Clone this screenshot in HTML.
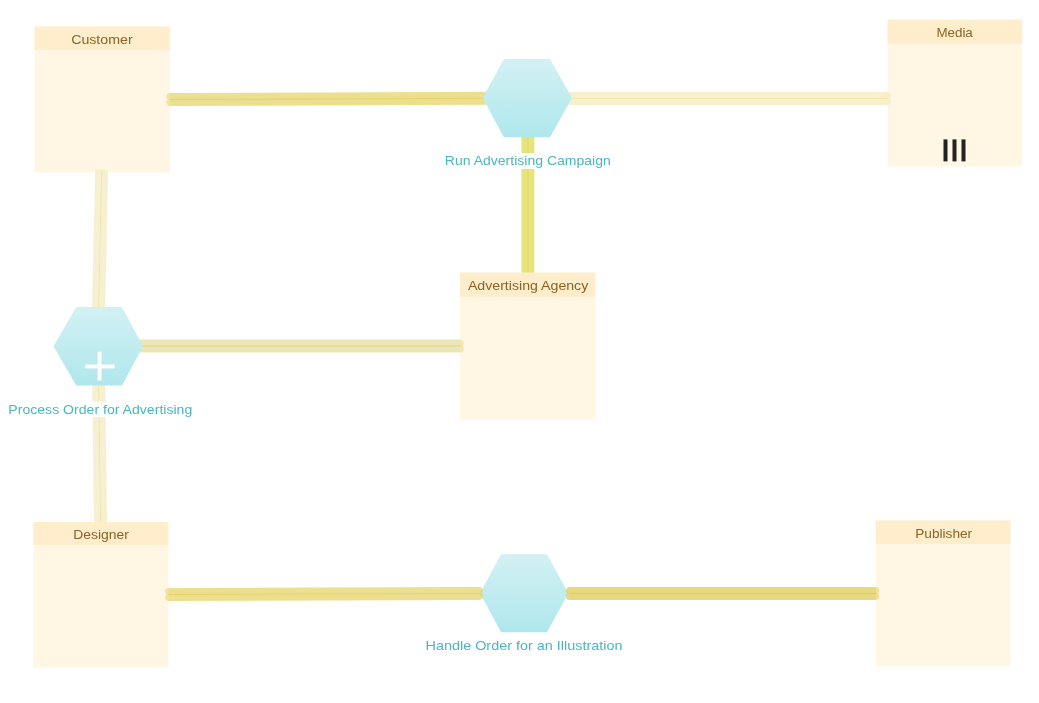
<!DOCTYPE html>
<html><head><meta charset="utf-8"><style>
html,body{margin:0;padding:0;background:#fff;width:1039px;height:703px;overflow:hidden}
svg{display:block;will-change:transform}
</style></head><body>
<svg width="1039" height="703" viewBox="0 0 1039 703">
<defs><linearGradient id="hg" x1="0" y1="0" x2="0" y2="1"><stop offset="0" stop-color="#d3f1f4"/><stop offset="1" stop-color="#afe7ec"/></linearGradient></defs>
<rect width="1039" height="703" fill="#fff"/>
<line x1="169.79" y1="96.45" x2="489.99" y2="95.30" stroke="rgb(226,206,86)" stroke-opacity="0.66" stroke-width="7" stroke-linecap="round"/><line x1="169.81" y1="102.45" x2="490.01" y2="101.30" stroke="rgb(226,206,86)" stroke-opacity="0.66" stroke-width="7" stroke-linecap="round"/><line x1="565.00" y1="95.40" x2="887.30" y2="95.40" stroke="rgb(228,205,88)" stroke-opacity="0.3" stroke-width="7" stroke-linecap="round"/><line x1="565.00" y1="101.40" x2="887.30" y2="101.40" stroke="rgb(228,205,88)" stroke-opacity="0.3" stroke-width="7" stroke-linecap="round"/><line x1="530.90" y1="130.00" x2="530.90" y2="276.00" stroke="rgb(223,218,82)" stroke-opacity="0.75" stroke-width="7" stroke-linecap="round"/><line x1="524.90" y1="130.00" x2="524.90" y2="276.00" stroke="rgb(223,218,82)" stroke-opacity="0.75" stroke-width="7" stroke-linecap="round"/><line x1="104.60" y1="172.67" x2="101.50" y2="312.07" stroke="rgb(227,208,108)" stroke-opacity="0.32" stroke-width="7" stroke-linecap="round"/><line x1="98.60" y1="172.53" x2="95.50" y2="311.93" stroke="rgb(227,208,108)" stroke-opacity="0.32" stroke-width="7" stroke-linecap="round"/><line x1="137.00" y1="343.00" x2="460.30" y2="343.00" stroke="rgb(212,198,85)" stroke-opacity="0.44" stroke-width="7" stroke-linecap="round"/><line x1="137.00" y1="349.00" x2="460.30" y2="349.00" stroke="rgb(212,198,85)" stroke-opacity="0.44" stroke-width="7" stroke-linecap="round"/><line x1="101.60" y1="379.96" x2="103.60" y2="525.96" stroke="rgb(227,208,108)" stroke-opacity="0.32" stroke-width="7" stroke-linecap="round"/><line x1="95.60" y1="380.04" x2="97.60" y2="526.04" stroke="rgb(227,208,108)" stroke-opacity="0.32" stroke-width="7" stroke-linecap="round"/>
<polygon points="482.7,98.1 503.9,59 550,59 572.1,98.1 550,137.2 503.9,137.2" fill="url(#hg)"/><polygon points="53.5,346.2 76.3,306.9 122,306.9 143,346.2 122,385.5 76.3,385.5" fill="url(#hg)"/><polygon points="480.0,593.25 501.1,554.3 547.0,554.3 568.3,593.25 547.0,632.2 501.1,632.2" fill="url(#hg)"/><rect x="97.6" y="351.7" width="3.9" height="28.8" fill="#fff"/><rect x="85.3" y="364.5" width="29.3" height="3.9" fill="#fff"/>
<line x1="168.59" y1="591.50" x2="479.29" y2="590.50" stroke="rgb(226,206,86)" stroke-opacity="0.66" stroke-width="7" stroke-linecap="round"/><line x1="168.61" y1="597.50" x2="479.31" y2="596.50" stroke="rgb(226,206,86)" stroke-opacity="0.66" stroke-width="7" stroke-linecap="round"/><line x1="569.60" y1="590.40" x2="875.50" y2="590.50" stroke="rgb(223,201,76)" stroke-opacity="0.72" stroke-width="7" stroke-linecap="round"/><line x1="569.60" y1="596.40" x2="875.50" y2="596.50" stroke="rgb(223,201,76)" stroke-opacity="0.72" stroke-width="7" stroke-linecap="round"/><rect x="34.5" y="50" width="135.5" height="122.6" fill="rgb(254,232,183)" fill-opacity="0.37"/><rect x="34.5" y="26.5" width="135.5" height="23.5" fill="#ffedcb"/><text x="101.9" y="44.1" text-anchor="middle" textLength="61.5" lengthAdjust="spacingAndGlyphs" fill="#8b6326" font-size="13.2" font-family='"Liberation Sans", sans-serif'>Customer</text><rect x="887.4" y="44" width="134.89999999999998" height="122.5" fill="rgb(254,232,183)" fill-opacity="0.37"/><rect x="887.4" y="19.5" width="134.89999999999998" height="24.5" fill="#ffedcb"/><text x="954.6" y="36.7" text-anchor="middle" textLength="36.4" lengthAdjust="spacingAndGlyphs" fill="#8b6326" font-size="13.2" font-family='"Liberation Sans", sans-serif'>Media</text><rect x="460" y="297" width="135.5" height="122.69999999999999" fill="rgb(254,232,183)" fill-opacity="0.37"/><rect x="460" y="272.5" width="135.5" height="24.5" fill="#ffedcb"/><text x="528.1" y="289.9" text-anchor="middle" textLength="120.4" lengthAdjust="spacingAndGlyphs" fill="#8b6326" font-size="13.2" font-family='"Liberation Sans", sans-serif'>Advertising Agency</text><rect x="33.3" y="545" width="135.2" height="122.20000000000005" fill="rgb(254,232,183)" fill-opacity="0.37"/><rect x="33.3" y="522" width="135.2" height="23" fill="#ffedcb"/><text x="101.0" y="538.9" text-anchor="middle" textLength="55.5" lengthAdjust="spacingAndGlyphs" fill="#8b6326" font-size="13.2" font-family='"Liberation Sans", sans-serif'>Designer</text><rect x="875.7" y="544.1" width="134.69999999999993" height="122.19999999999993" fill="rgb(254,232,183)" fill-opacity="0.37"/><rect x="875.7" y="520.4" width="134.69999999999993" height="23.700000000000045" fill="#ffedcb"/><text x="943.7" y="537.9" text-anchor="middle" textLength="56.9" lengthAdjust="spacingAndGlyphs" fill="#8b6326" font-size="13.2" font-family='"Liberation Sans", sans-serif'>Publisher</text><rect x="943.5" y="139.4" width="4" height="22" fill="#222"/><rect x="952.5" y="139.4" width="4" height="22" fill="#222"/><rect x="961.5" y="139.4" width="4" height="22" fill="#222"/>
<rect x="440" y="153" width="176" height="16" fill="#fff"/><text x="527.8" y="164.9" text-anchor="middle" textLength="166" lengthAdjust="spacingAndGlyphs" fill="#4ab7c1" font-size="13.2" font-family='"Liberation Sans", sans-serif'>Run Advertising Campaign</text><rect x="5" y="401.5" width="191" height="15.600000000000023" fill="#fff"/><text x="100.3" y="413.8" text-anchor="middle" textLength="184" lengthAdjust="spacingAndGlyphs" fill="#4ab7c1" font-size="13.2" font-family='"Liberation Sans", sans-serif'>Process Order for Advertising</text><text x="524" y="649.8" text-anchor="middle" textLength="197" lengthAdjust="spacingAndGlyphs" fill="#4ab7c1" font-size="13.2" font-family='"Liberation Sans", sans-serif'>Handle Order for an Illustration</text>
</svg>
</body></html>
